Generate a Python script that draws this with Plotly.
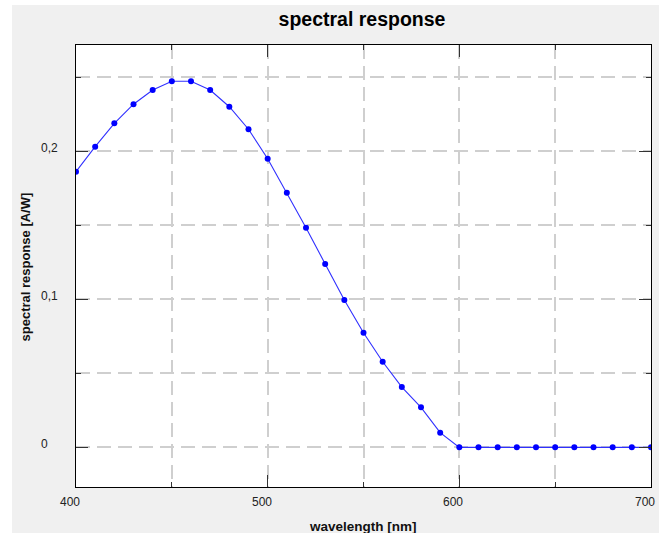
import plotly.graph_objects as go

# Spectral response of the photodiode, sampled every 10 nm
wavelength_nm = [400, 410, 420, 430, 440, 450, 460, 470, 480, 490,
                 500, 510, 520, 530, 540, 550, 560, 570, 580, 590,
                 600, 610, 620, 630, 640, 650, 660, 670, 680, 690, 700]
response_a_per_w = [0.1862, 0.2031, 0.2189, 0.2318, 0.2414, 0.2473, 0.2473, 0.2414, 0.2301, 0.2149,
                    0.1950, 0.1720, 0.1484, 0.1239, 0.0995, 0.0774, 0.0578, 0.0407, 0.0270, 0.0099,
                    0.0, 0.0, 0.0, 0.0, 0.0, 0.0, 0.0, 0.0, 0.0, 0.0, 0.0]

# Labelled tick positions and their text (decimal comma)
x_tick_vals = [400, 500, 600, 700]
x_tick_text = ["400", "500", "600", "700"]
y_tick_vals = [0.0, 0.1, 0.2]
y_tick_text = ["0", "0,1", "0,2"]

W, H = 659, 533
ML, MR, MT, MB = 76, 8, 45, 46
PW, PH = W - ML - MR, H - MT - MB

FONT = "Liberation Sans, Arial, sans-serif"
GRID = "#cfcfcf"
DASH = "14px,7px"

fig = go.Figure()
fig.add_trace(go.Scatter(
    x=wavelength_nm, y=response_a_per_w,
    mode="lines+markers",
    line=dict(color="#3030ff", width=1.1),
    marker=dict(color="#0000ff", size=6),
    hoverinfo="x+y", showlegend=False,
))

axis_common = dict(
    showline=True, linecolor="#000000", linewidth=1, mirror="allticks",
    ticks="inside", ticklen=12, tickwidth=1, tickcolor="#333333",
    showgrid=True, gridcolor=GRID, gridwidth=1.5, griddash=DASH,
    zeroline=False, showticklabels=False,
)

fig.update_xaxes(
    **axis_common,
    range=[400, 700], dtick=100, tick0=400,
    minor=dict(dtick=50, ticklen=5, ticks="inside", tickcolor="#333333",
               showgrid=True, gridcolor=GRID, gridwidth=1.5, griddash=DASH),
)
fig.update_yaxes(
    **axis_common,
    range=[-0.0268, 0.2718], dtick=0.1, tick0=0,
    minor=dict(dtick=0.05, ticklen=5, ticks="inside", tickcolor="#333333",
               showgrid=True, gridcolor=GRID, gridwidth=1.5, griddash=DASH),
)


def px_x(px):
    return (px - ML) / PW


def px_y(py):
    return (H - MB - py) / PH


# White strip along the left and top edges of the grey panel
fig.add_shape(type="rect", xref="paper", yref="paper", layer="below",
              x0=px_x(-2), x1=px_x(12), y0=px_y(H + 2), y1=px_y(-2),
              fillcolor="#ffffff", line=dict(width=0))
fig.add_shape(type="rect", xref="paper", yref="paper", layer="below",
              x0=px_x(-2), x1=px_x(W + 2), y0=px_y(5), y1=px_y(-2),
              fillcolor="#ffffff", line=dict(width=0))

tick_font = dict(family=FONT, size=12, color="#222222")
for v, t in zip(x_tick_vals, x_tick_text):
    fig.add_annotation(text=t, x=v, xref="x", y=px_y(501.7), yref="paper",
                       xanchor="center", yanchor="middle", xshift=-6,
                       showarrow=False, borderpad=0, font=tick_font)
for v, t in zip(y_tick_vals, y_tick_text):
    fig.add_annotation(text=t, x=px_x(40), xref="paper", y=v, yref="y",
                       xanchor="left", yanchor="middle", yshift=3.5,
                       showarrow=False, borderpad=0, font=tick_font)

fig.add_annotation(text="<b>wavelength [nm]</b>", xref="paper", yref="paper",
                   x=px_x(362.5), y=px_y(526), xanchor="center", yanchor="middle",
                   showarrow=False, borderpad=0,
                   font=dict(family=FONT, size=13.5, color="#111111"))
fig.add_annotation(text="<b>spectral response [A/W]</b>", xref="paper", yref="paper",
                   x=px_x(24.5), y=px_y(267), xanchor="center", yanchor="middle",
                   textangle=-90, showarrow=False, borderpad=0,
                   font=dict(family=FONT, size=13, color="#111111"))

fig.update_layout(
    width=W, height=H,
    margin=dict(l=ML, r=MR, t=MT, b=MB, pad=0),
    paper_bgcolor="#f0f0f0", plot_bgcolor="#ffffff",
    separators=", ",
    title=dict(text="<b>spectral response</b>", x=px_x(362), xref="paper",
               xanchor="center", y=1 - 19 / H, yanchor="middle",
               font=dict(family=FONT, size=19.5, color="#000000")),
)

fig.write_html("out.html")
